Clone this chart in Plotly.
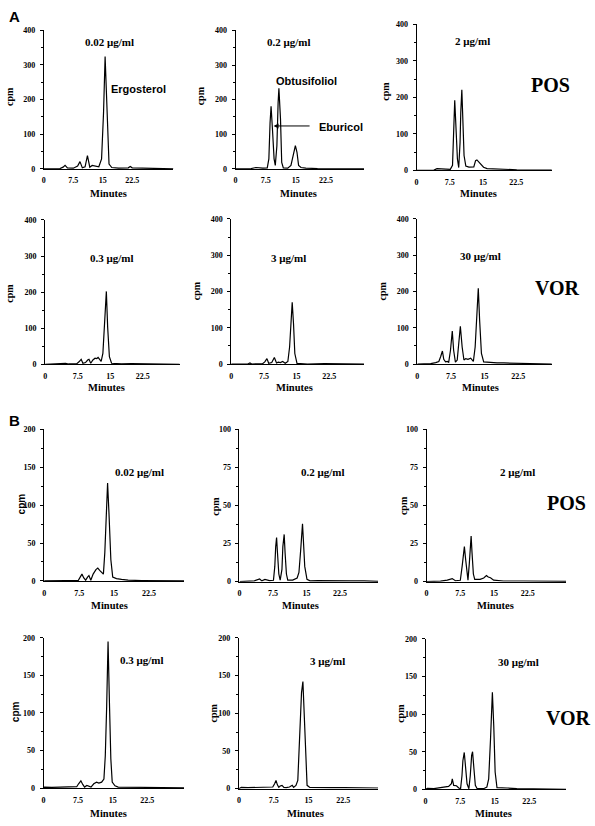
import plotly.graph_objects as go

W, H = 595, 826

# ---------------- data (minutes, cpm) ----------------
t_a1 = [0, 4.1, 4.9, 5.4, 6.0, 7.5, 8.6, 9.2, 9.8, 10.5, 11.1, 11.7, 12.3, 13.2, 14.0, 14.7, 15.2, 15.6, 16.1, 16.6, 17.3, 19.0, 21.5, 22.0, 22.5, 25.8, 29.2, 33.0]
cpm_a1 = [0, 1, 5, 10, 3, 2, 8, 21, 3, 6, 38, 5, 10, 8, 6, 29, 162, 324, 162, 14, 4, 2, 3, 7, 3, 2, 1, 0]

t_a2 = [0, 3.9, 5.1, 6.0, 6.8, 7.9, 8.3, 8.6, 8.85, 9.2, 9.6, 9.9, 10.3, 10.6, 10.8, 11.2, 11.5, 11.9, 13.0, 13.8, 14.2, 14.9, 15.3, 15.7, 16.3, 17.5, 20.4, 26.2, 32.0]
cpm_a2 = [0, 1, 4, 3, 2, 3, 29, 133, 181, 114, 29, 10, 67, 190, 233, 143, 19, 3, 2, 10, 29, 67, 48, 10, 4, 2, 1, 1, 0]

t_a3 = [0, 3.9, 4.6, 5.1, 5.8, 7.6, 8.1, 8.4, 8.6, 8.9, 9.2, 9.5, 9.8, 9.96, 10.2, 10.4, 10.7, 11.1, 11.8, 12.9, 13.3, 13.6, 14.1, 14.5, 15.1, 15.9, 17.4, 18.9, 22.6, 30.5]
cpm_a3 = [0, 1, 5, 5, 3, 3, 14, 113, 192, 113, 32, 8, 77, 158, 221, 149, 41, 12, 9, 10, 27, 29, 23, 19, 9, 5, 4, 3, 2, 1]

t_a4 = [0, 4.2, 4.7, 5.4, 7.3, 7.8, 8.3, 8.7, 9.3, 9.8, 10.1, 10.5, 11.0, 11.5, 11.9, 12.2, 12.9, 13.3, 13.7, 14.1, 14.4, 14.8, 15.3, 17.6, 19.9, 22.2, 24.5, 27.5, 31.0]
cpm_a4 = [0, 1, 3, 1, 2, 7, 14, 3, 5, 12, 14, 3, 12, 17, 16, 19, 8, 30, 103, 202, 103, 21, 3, 1, 2, 2, 1, 1, 0]

t_a5 = [0, 3.8, 4.3, 4.7, 7.2, 7.7, 8.2, 8.6, 9.3, 9.9, 10.4, 10.8, 11.3, 11.8, 12.4, 13.0, 13.4, 13.7, 14.0, 14.3, 14.6, 15.1, 17.5, 21.4, 25.2, 30.5]
cpm_a5 = [0, 0, 3, 0, 1, 6, 15, 2, 4, 18, 3, 5, 4, 7, 2, 7, 47, 120, 170, 111, 29, 2, 0, 1, 0, 0]

t_a6 = [0, 3.0, 4.1, 4.8, 5.2, 5.6, 5.9, 6.3, 6.7, 7.0, 7.4, 7.8, 8.1, 8.5, 8.9, 9.3, 9.6, 10.0, 10.4, 10.8, 11.3, 11.9, 12.5, 12.9, 13.2, 13.6, 13.9, 14.3, 14.8, 16.3, 17.0, 17.8, 19.3, 22.2, 25.9, 30.0]
cpm_a6 = [0, 1, 4, 7, 20, 36, 13, 6, 7, 5, 38, 91, 38, 5, 11, 65, 104, 47, 11, 15, 13, 16, 7, 47, 138, 209, 120, 29, 6, 4, 5, 3, 3, 2, 1, 0]

t_b1 = [0, 3.4, 3.9, 4.5, 7.3, 7.7, 8.1, 8.5, 8.9, 9.3, 9.6, 10.0, 10.5, 11.1, 11.5, 11.9, 12.3, 12.7, 13.0, 13.3, 13.6, 13.9, 14.3, 14.7, 15.5, 16.6, 18.0, 20.9, 25.2, 30.0]
cpm_b1 = [0, 0.5, 1, 0.5, 0.5, 4, 9, 4, 1, 5, 7, 1, 9, 15, 17, 14, 11, 9, 37, 89, 129, 89, 28, 5, 3, 2, 1, 0.5, 0.5, 0]

t_b2 = [0, 1.9, 3.3, 4.5, 5.0, 5.7, 6.7, 7.6, 7.9, 8.1, 8.3, 8.5, 8.8, 9.1, 9.5, 9.7, 10.0, 10.2, 10.5, 10.8, 11.9, 12.9, 13.3, 13.7, 14.1, 14.3, 14.6, 15.1, 15.8, 17.5, 20.4, 24.9, 27.9, 31.0]
cpm_b2 = [0, 0.3, 0.5, 1.7, 0.5, 1.5, 0.7, 0.9, 10, 23, 29, 19, 5, 1, 8, 23, 31, 19, 5, 1, 1, 2.4, 6, 21, 38, 27, 10, 1.5, 0.5, 0.7, 0.5, 0.5, 0.5, 0.2]

t_b3 = [0, 3.1, 4.6, 5.7, 6.4, 7.5, 7.9, 8.2, 8.4, 8.7, 9.0, 9.2, 9.5, 9.7, 9.9, 10.1, 10.4, 10.7, 11.9, 12.7, 13.3, 13.7, 14.2, 14.9, 17.1, 21.5, 26.0, 31.0]
cpm_b3 = [0, 0.3, 1, 2, 0.6, 0.9, 10, 21, 23, 14, 4, 1, 12, 27, 30, 19, 5, 1.5, 1.5, 2.4, 4, 3, 2.6, 1, 0.4, 0.4, 0.4, 0.2]

t_b4 = [0, 0.2, 1.8, 3.2, 5.4, 7.2, 7.6, 8.1, 8.5, 8.9, 9.4, 9.9, 10.3, 10.9, 11.5, 12.0, 12.6, 13.1, 13.4, 13.7, 14.0, 14.3, 14.6, 14.9, 15.5, 16.2, 18.4, 21.3, 24.2, 27.0, 30.5]
cpm_b4 = [0, 1.3, 0.9, 1.3, 1.3, 1.8, 5.7, 9.6, 4.8, 1.3, 3.5, 1.8, 1.3, 5.7, 7.9, 6.6, 7.9, 12, 43, 109, 195, 113, 39, 7.9, 3, 1.3, 1.3, 0.9, 0.9, 0.9, 0.4]

t_b5 = [0, 0.5, 1.9, 4.1, 6.2, 7.3, 7.7, 8.0, 8.3, 8.6, 8.9, 9.3, 9.7, 10.2, 10.9, 11.5, 11.8, 12.3, 12.7, 13.1, 13.5, 13.8, 14.1, 14.4, 14.7, 15.3, 17.0, 19.8, 22.7, 25.6, 30.0]
cpm_b5 = [0, 1.7, 1.3, 1.7, 2.2, 2.2, 6.6, 11, 5, 1.7, 3.5, 4.4, 1.7, 1.3, 2.2, 4.4, 1.7, 4.4, 11, 66, 127, 142, 96, 31, 4.4, 1.7, 1.3, 1.3, 1.3, 1.3, 0.9]

t_b6 = [0, 0.4, 1.8, 3.2, 4.3, 5.0, 5.6, 5.8, 6.1, 6.7, 7.2, 7.6, 7.9, 8.1, 8.4, 8.7, 9.0, 9.4, 9.7, 10.0, 10.2, 10.5, 10.8, 11.2, 12.6, 13.3, 13.7, 14.1, 14.5, 14.8, 15.1, 15.5, 17.0, 17.7, 19.8, 22.7, 25.6, 30.5]
cpm_b6 = [0, 1.3, 0.9, 2.2, 2.6, 3.9, 7.4, 14, 5.3, 4.8, 1.8, 0.9, 18, 38, 49, 32, 7.4, 0.9, 18, 45, 50, 27, 5.3, 0.9, 0.9, 3, 14, 67, 129, 84, 23, 2.2, 1.3, 1.8, 0.9, 0.9, 0.4, 0]

x_tick_vals = [0, 7.5, 15, 22.5]
x_tick_text = ["0", "7.5", "15", "22.5"]
y_ticks_a = [0, 100, 200, 300, 400]
y_ticks_b = [0, 50, 100, 150, 200]
y_ticks_b_small = [0, 25, 50, 75, 100]

conc_labels_a = ["0.02 \u03bcg/ml", "0.2 \u03bcg/ml", "2 \u03bcg/ml", "0.3 \u03bcg/ml", "3 \u03bcg/ml", "30 \u03bcg/ml"]
conc_labels_b = ["0.02 \u03bcg/ml", "0.2 \u03bcg/ml", "2 \u03bcg/ml", "0.3 \u03bcg/ml", "3 \u03bcg/ml", "30 \u03bcg/ml"]
drug_labels = ["POS", "VOR"]
compound_labels = ["Ergosterol", "Obtusifoliol", "Eburicol"]

# ---------------- layout (pixel geometry) ----------------
SERIF = "Liberation Serif"
SANS = "Liberation Sans"

panels = [
    dict(t=t_a1, c=cpm_a1, box=(42, 172, 26.5, 166.7), xmax=33, ymax=400, yt=y_ticks_a, minor=50,
         conc=(conc_labels_a[0], 108, 38), cpm=(8, 93, SERIF), mins=(107, 192)),
    dict(t=t_a2, c=cpm_a2, box=(234.3, 363.3, 26.7, 166.7), xmax=32, ymax=400, yt=y_ticks_a, minor=50,
         conc=(conc_labels_a[1], 288, 38), cpm=(200, 93, SERIF), mins=(297, 192)),
    dict(t=t_a3, c=cpm_a3, box=(416, 551.7, 20.7, 168.3), xmax=30.5, ymax=400, yt=y_ticks_a, minor=50,
         conc=(conc_labels_a[2], 472, 37), cpm=(384, 88, SERIF), mins=(478, 192)),
    dict(t=t_a4, c=cpm_a4, box=(43.3, 178.3, 218.3, 364.3), xmax=31, ymax=400, yt=y_ticks_a, minor=50,
         conc=(conc_labels_a[3], 110, 257), cpm=(8, 292, SERIF), mins=(105, 388)),
    dict(t=t_a5, c=cpm_a5, box=(230, 363.3, 217.3, 364), xmax=30.5, ymax=400, yt=y_ticks_a, minor=50,
         conc=(conc_labels_a[4], 287, 257), cpm=(195, 290, SERIF), mins=(293, 388)),
    dict(t=t_a6, c=cpm_a6, box=(416.7, 551.7, 217.3, 364), xmax=30, ymax=400, yt=y_ticks_a, minor=50,
         conc=(conc_labels_a[5], 480, 255), cpm=(382, 290, SERIF), mins=(480, 388)),
    dict(t=t_b1, c=cpm_b1, box=(42.3, 182.7, 430, 583.3), xmax=30, ymax=200, yt=y_ticks_b, minor=25,
         conc=(conc_labels_b[0], 138, 473), cpm=(20, 505, SANS), mins=(108, 608)),
    dict(t=t_b2, c=cpm_b2, box=(238.3, 377.3, 430, 584), xmax=31, ymax=100, yt=y_ticks_b_small, minor=12.5,
         conc=(conc_labels_b[1], 322, 473), cpm=(214, 508, SERIF), mins=(300, 608)),
    dict(t=t_b3, c=cpm_b3, box=(426, 566, 430, 584), xmax=31, ymax=100, yt=y_ticks_b_small, minor=12.5,
         conc=(conc_labels_b[2], 517, 473), cpm=(403, 507, SERIF), mins=(495, 608)),
    dict(t=t_b4, c=cpm_b4, box=(41.7, 182.7, 640.7, 792.7), xmax=30.5, ymax=200, yt=y_ticks_b, minor=25,
         conc=(conc_labels_b[3], 140, 663), cpm=(13, 715, SANS), mins=(107, 818)),
    dict(t=t_b5, c=cpm_b5, box=(237.7, 377.3, 640.7, 793.3), xmax=30, ymax=200, yt=y_ticks_b, minor=25,
         conc=(conc_labels_b[4], 327, 664), cpm=(212, 717, SERIF), mins=(305, 818)),
    dict(t=t_b6, c=cpm_b6, box=(425, 566, 641.7, 794), xmax=30.5, ymax=200, yt=y_ticks_b, minor=25,
         conc=(conc_labels_b[5], 518, 665), cpm=(400, 717, SERIF), mins=(493, 818)),
]


def px(x):
    return x / W


def py(y):
    return 1 - y / H


fig = go.Figure()
annotations = []
layout_axes = {}

tick_font = dict(family=SERIF, size=8, color="#000000", weight="bold")

for i, p in enumerate(panels, start=1):
    sfx = "" if i == 1 else str(i)
    fig.add_trace(go.Scatter(
        x=p["t"], y=p["c"], mode="lines",
        line=dict(color="black", width=1.2),
        xaxis="x" + sfx, yaxis="y" + sfx, showlegend=False, hoverinfo="skip",
    ))
    x0, x1, yt, yz = p["box"]
    layout_axes["xaxis" + sfx] = dict(
        domain=[px(x0), px(x1)], range=[0, p["xmax"]], anchor="y" + sfx,
        showline=True, linecolor="black", linewidth=1, showgrid=False, zeroline=False,
        tickvals=x_tick_vals, ticktext=x_tick_text, ticks="", tickfont=tick_font,
        ticklabelstandoff=4, fixedrange=True,
    )
    layout_axes["yaxis" + sfx] = dict(
        domain=[py(yz), py(yt)], range=[0, p["ymax"]], anchor="x" + sfx,
        showline=True, linecolor="black", linewidth=1, showgrid=False, zeroline=False,
        tickvals=p["yt"], ticks="outside", ticklen=3, tickcolor="black", tickwidth=1,
        minor=dict(ticks="outside", ticklen=2, dtick=p["minor"], tickcolor="black"),
        tickfont=tick_font, ticklabelstandoff=3, fixedrange=True,
    )
    txt, cx, cy = p["conc"]
    annotations.append(dict(text=txt, x=px(cx), y=py(cy), xref="paper", yref="paper",
                            showarrow=False, xanchor="center", yanchor="middle",
                            font=dict(family=SERIF, size=11, color="black", weight="bold")))
    lx, ly, fam = p["cpm"]
    annotations.append(dict(text="cpm", x=px(lx), y=py(ly), xref="paper", yref="paper",
                            showarrow=False, textangle=-90, xanchor="center", yanchor="middle",
                            font=dict(family=fam, size=10, color="black", weight="bold")))
    mx, my = p["mins"]
    annotations.append(dict(text="Minutes", x=px(mx), y=py(my), xref="paper", yref="paper",
                            showarrow=False, xanchor="center", yanchor="middle",
                            font=dict(family=SERIF, size=10.5, color="black", weight="bold")))

for txt, x, y in [(drug_labels[0], 550, 82), (drug_labels[1], 557, 287),
                  (drug_labels[0], 566, 505), (drug_labels[1], 568, 722)]:
    annotations.append(dict(text=txt, x=px(x), y=py(y), xref="paper", yref="paper",
                            showarrow=False, xanchor="center", yanchor="middle",
                            font=dict(family=SERIF, size=20, color="black", weight="bold")))

for txt, x, y in [("A", 13, 13), ("B", 13, 421)]:
    annotations.append(dict(text=txt, x=px(x), y=py(y), xref="paper", yref="paper",
                            showarrow=False, xanchor="center", yanchor="middle",
                            font=dict(family=SANS, size=15, color="black", weight="bold")))

cfont = dict(family=SANS, size=11, color="black", weight="bold")
annotations.append(dict(text=compound_labels[0], x=px(107), y=py(86), xref="paper", yref="paper",
                        showarrow=False, xanchor="left", yanchor="middle", font=cfont))
annotations.append(dict(text=compound_labels[1], x=px(306), y=py(78), xref="paper", yref="paper",
                        showarrow=False, xanchor="center", yanchor="middle", font=cfont))
annotations.append(dict(text=compound_labels[2], x=px(316), y=py(124), xref="paper", yref="paper",
                        showarrow=False, xanchor="left", yanchor="middle", font=cfont))
annotations.append(dict(text=" ", x=px(272.5), y=py(123.3), xref="paper", yref="paper",
                        showarrow=True, ax=39, ay=0, axref="pixel", ayref="pixel",
                        arrowhead=2, arrowsize=1, arrowwidth=1, arrowcolor="black"))

fig.update_layout(
    width=W, height=H, margin=dict(l=0, r=0, t=0, b=0),
    paper_bgcolor="white", plot_bgcolor="white",
    annotations=annotations, showlegend=False,
    **layout_axes,
)

fig.write_html(
    "out.html",
    config={"displayModeBar": False},
    post_script="document.body.style.margin='0';document.body.style.overflow='hidden';",
)
